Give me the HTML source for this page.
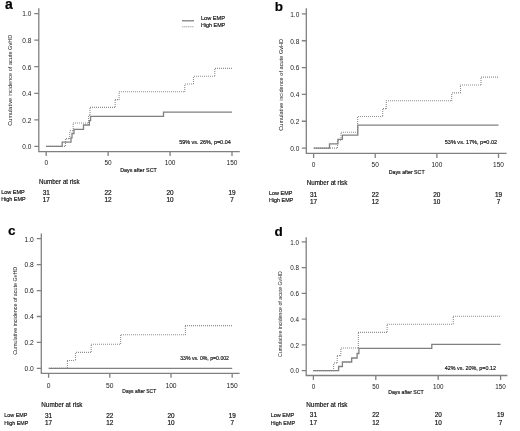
<!DOCTYPE html>
<html><head><meta charset="utf-8"><title>Cumulative incidence of acute GvHD</title>
<style>
html,body{margin:0;padding:0;background:#fff;}
body{width:520px;height:431px;overflow:hidden;}
svg{display:block;font-family:"Liberation Sans", sans-serif;filter:blur(0.5px);}
text{stroke:#111;stroke-width:0.18px;}
text.lt{stroke:none;fill:#1a1a1a;}
</style></head><body>
<svg width="520" height="431" viewBox="0 0 520 431">
<rect width="520" height="431" fill="#fff"/>
<g id="pa"><text x="5.0" y="9.2" font-size="14" font-weight="bold" fill="#000">a</text>
<path d="M38.8,8.3V151.6H239.8" fill="none" stroke="#808080" stroke-width="1.3"/>
<text class="lt" x="31.4" y="149.20" font-size="6.5" text-anchor="end">0.0</text>
<text class="lt" x="31.4" y="122.64" font-size="6.5" text-anchor="end">0.2</text>
<text class="lt" x="31.4" y="96.08" font-size="6.5" text-anchor="end">0.4</text>
<text class="lt" x="31.4" y="69.52" font-size="6.5" text-anchor="end">0.6</text>
<text class="lt" x="31.4" y="42.96" font-size="6.5" text-anchor="end">0.8</text>
<text class="lt" x="31.4" y="16.40" font-size="6.5" text-anchor="end">1.0</text>
<text class="lt" x="46.20" y="165.20" font-size="6.5" text-anchor="middle">0</text>
<text class="lt" x="108.13" y="165.20" font-size="6.5" text-anchor="middle">50</text>
<text class="lt" x="170.07" y="165.20" font-size="6.5" text-anchor="middle">100</text>
<text class="lt" x="232.00" y="165.20" font-size="6.5" text-anchor="middle">150</text>
<path d="M34.30,146.40H38.8M34.30,119.84H38.8M34.30,93.28H38.8M34.30,66.72H38.8M34.30,40.16H38.8M34.30,13.60H38.8M46.20,151.6V156.10M108.13,151.6V156.10M170.07,151.6V156.10M232.00,151.6V156.10" fill="none" stroke="#808080" stroke-width="1.3"/>
<text class="lt" transform="translate(12.30,125.7) rotate(-90)" x="0" y="0" font-size="5.5" textLength="90.90" lengthAdjust="spacingAndGlyphs">Cumulative incidence of acute GvHD</text>
<text x="120.20" y="171.90" font-size="5.8" textLength="36.60" lengthAdjust="spacingAndGlyphs" fill="#111">Days after SCT</text>
<text x="179.20" y="144.40" font-size="6.2" textLength="51.50" lengthAdjust="spacingAndGlyphs" fill="#111">59&#37; vs. 26&#37;, p=0.04</text>
<text x="39.00" y="183.50" font-size="6.6" textLength="40.50" lengthAdjust="spacingAndGlyphs" fill="#111">Number at risk</text>
<text x="1.15" y="193.90" font-size="6.2" textLength="23.65" lengthAdjust="spacingAndGlyphs" fill="#111">Low EMP</text>
<text x="1.15" y="201.20" font-size="6.2" textLength="24.45" lengthAdjust="spacingAndGlyphs" fill="#111">High EMP</text>
<text x="46.20" y="194.6" font-size="6.4" text-anchor="middle" fill="#111">31</text>
<text x="46.20" y="202.0" font-size="6.4" text-anchor="middle" fill="#111">17</text>
<text x="108.13" y="194.6" font-size="6.4" text-anchor="middle" fill="#111">22</text>
<text x="108.13" y="202.0" font-size="6.4" text-anchor="middle" fill="#111">12</text>
<text x="170.07" y="194.6" font-size="6.4" text-anchor="middle" fill="#111">20</text>
<text x="170.07" y="202.0" font-size="6.4" text-anchor="middle" fill="#111">10</text>
<text x="232.00" y="194.6" font-size="6.4" text-anchor="middle" fill="#111">19</text>
<text x="232.00" y="202.0" font-size="6.4" text-anchor="middle" fill="#111">7</text>
<g fill="none" stroke="#8e8e8e" stroke-width="1.1" stroke-dasharray="1 1"><path d="M46,146.40H65.50"/><path d="M65.50,146V138.60"/><path d="M66,138.60H69.70"/><path d="M69.70,139V130.80"/><path d="M70,130.80H73.20"/><path d="M73.20,131V123.00"/><path d="M73,123.00H88.60"/><path d="M88.60,123V115.20"/><path d="M89,115.20H90.00"/><path d="M90.00,115V107.40"/><path d="M90,107.40H115.20"/><path d="M115.20,107V99.60"/><path d="M115,99.60H119.10"/><path d="M119.10,100V91.80"/><path d="M119,91.80H184.75"/><path d="M184.75,92V84.00"/><path d="M185,84.00H193.50"/><path d="M193.50,84V76.20"/><path d="M194,76.20H214.75"/><path d="M214.75,76V68.40"/><path d="M215,68.40H232.00"/></g>
<path d="M46.20,146.40H62.20V142.10H71.00V137.80H72.00V133.50H74.00V129.30H83.50V125.00H89.40V120.70H90.60V116.40H163.50V112.10H232.00" fill="none" stroke="#808080" stroke-width="1.3"/>
<path d="M182,20.8H194" stroke="#808080" stroke-width="1.3"/>
<path d="M182,26.8H194" stroke="#aaa" stroke-width="1.1" stroke-dasharray="1.5 0.5"/>
<text x="201.00" y="19.90" font-size="5.9" textLength="24.00" lengthAdjust="spacingAndGlyphs" fill="#111">Low EMP</text>
<text x="201.00" y="26.90" font-size="5.9" textLength="24.20" lengthAdjust="spacingAndGlyphs" fill="#111">High EMP</text></g>
<g id="pb"><text x="274.8" y="10.9" font-size="13.5" font-weight="bold" fill="#000">b</text>
<path d="M306.3,8.3V153.4H506.6" fill="none" stroke="#808080" stroke-width="1.3"/>
<text class="lt" x="299.3" y="150.90" font-size="6.5" text-anchor="end">0.0</text>
<text class="lt" x="299.3" y="124.06" font-size="6.5" text-anchor="end">0.2</text>
<text class="lt" x="299.3" y="97.22" font-size="6.5" text-anchor="end">0.4</text>
<text class="lt" x="299.3" y="70.38" font-size="6.5" text-anchor="end">0.6</text>
<text class="lt" x="299.3" y="43.54" font-size="6.5" text-anchor="end">0.8</text>
<text class="lt" x="299.3" y="16.70" font-size="6.5" text-anchor="end">1.0</text>
<text class="lt" x="313.60" y="167.40" font-size="6.5" text-anchor="middle">0</text>
<text class="lt" x="375.23" y="167.40" font-size="6.5" text-anchor="middle">50</text>
<text class="lt" x="436.87" y="167.40" font-size="6.5" text-anchor="middle">100</text>
<text class="lt" x="498.50" y="167.40" font-size="6.5" text-anchor="middle">150</text>
<path d="M301.80,148.10H306.3M301.80,121.26H306.3M301.80,94.42H306.3M301.80,67.58H306.3M301.80,40.74H306.3M301.80,13.90H306.3M313.60,153.4V157.90M375.23,153.4V157.90M436.87,153.4V157.90M498.50,153.4V157.90" fill="none" stroke="#808080" stroke-width="1.3"/>
<text class="lt" transform="translate(283.40,130.7) rotate(-90)" x="0" y="0" font-size="5.6" textLength="91.90" lengthAdjust="spacingAndGlyphs">Cumulative incidence of acute GvHD</text>
<text x="388.80" y="173.70" font-size="5.8" textLength="35.80" lengthAdjust="spacingAndGlyphs" fill="#111">Days after SCT</text>
<text x="444.80" y="144.00" font-size="6.2" textLength="52.30" lengthAdjust="spacingAndGlyphs" fill="#111">53&#37; vs. 17&#37;, p=0.02</text>
<text x="306.70" y="185.40" font-size="6.6" textLength="40.60" lengthAdjust="spacingAndGlyphs" fill="#111">Number at risk</text>
<text x="269.00" y="194.80" font-size="6.2" textLength="23.30" lengthAdjust="spacingAndGlyphs" fill="#111">Low EMP</text>
<text x="269.00" y="202.10" font-size="6.2" textLength="24.20" lengthAdjust="spacingAndGlyphs" fill="#111">High EMP</text>
<text x="313.60" y="197.0" font-size="6.4" text-anchor="middle" fill="#111">31</text>
<text x="313.60" y="204.2" font-size="6.4" text-anchor="middle" fill="#111">17</text>
<text x="375.23" y="197.0" font-size="6.4" text-anchor="middle" fill="#111">22</text>
<text x="375.23" y="204.2" font-size="6.4" text-anchor="middle" fill="#111">12</text>
<text x="436.87" y="197.0" font-size="6.4" text-anchor="middle" fill="#111">20</text>
<text x="436.87" y="204.2" font-size="6.4" text-anchor="middle" fill="#111">10</text>
<text x="498.50" y="197.0" font-size="6.4" text-anchor="middle" fill="#111">19</text>
<text x="498.50" y="204.2" font-size="6.4" text-anchor="middle" fill="#111">7</text>
<g fill="none" stroke="#8e8e8e" stroke-width="1.1" stroke-dasharray="1 1"><path d="M314,148.10H337.50"/><path d="M337.50,148V140.20"/><path d="M338,140.20H341.00"/><path d="M341.00,140V132.30"/><path d="M341,132.30H357.60"/><path d="M357.60,132V116.50"/><path d="M358,116.50H382.70"/><path d="M382.70,116V108.60"/><path d="M383,108.60H386.30"/><path d="M386.30,109V100.70"/><path d="M386,100.70H451.70"/><path d="M451.70,101V92.90"/><path d="M452,92.90H460.50"/><path d="M460.50,93V85.00"/><path d="M460,85.00H481.00"/><path d="M481.00,85V77.10"/><path d="M481,77.10H498.50"/></g>
<path d="M313.60,148.10H329.50V143.80H337.90V139.40H342.40V135.10H357.80V125.20H498.50" fill="none" stroke="#808080" stroke-width="1.3"/></g>
<g id="pc"><text x="8.0" y="234.5" font-size="13.5" font-weight="bold" fill="#000">c</text>
<path d="M41.3,233.6V373.3H239.6" fill="none" stroke="#808080" stroke-width="1.3"/>
<text class="lt" x="33.8" y="371.20" font-size="6.7" text-anchor="end">0.0</text>
<text class="lt" x="33.8" y="345.26" font-size="6.7" text-anchor="end">0.2</text>
<text class="lt" x="33.8" y="319.32" font-size="6.7" text-anchor="end">0.4</text>
<text class="lt" x="33.8" y="293.38" font-size="6.7" text-anchor="end">0.6</text>
<text class="lt" x="33.8" y="267.44" font-size="6.7" text-anchor="end">0.8</text>
<text class="lt" x="33.8" y="241.50" font-size="6.7" text-anchor="end">1.0</text>
<text class="lt" x="48.60" y="387.70" font-size="6.7" text-anchor="middle">0</text>
<text class="lt" x="109.80" y="387.70" font-size="6.7" text-anchor="middle">50</text>
<text class="lt" x="171.00" y="387.70" font-size="6.7" text-anchor="middle">100</text>
<text class="lt" x="232.20" y="387.70" font-size="6.7" text-anchor="middle">150</text>
<path d="M36.80,368.40H41.3M36.80,342.46H41.3M36.80,316.52H41.3M36.80,290.58H41.3M36.80,264.64H41.3M36.80,238.70H41.3M48.60,373.3V377.80M109.80,373.3V377.80M171.00,373.3V377.80M232.20,373.3V377.80" fill="none" stroke="#808080" stroke-width="1.3"/>
<text class="lt" transform="translate(16.90,354.8) rotate(-90)" x="0" y="0" font-size="5.5" textLength="88.00" lengthAdjust="spacingAndGlyphs">Cumulative incidence of acute GvHD</text>
<text x="122.30" y="393.10" font-size="5.8" textLength="33.90" lengthAdjust="spacingAndGlyphs" fill="#111">Days after SCT</text>
<text x="180.20" y="360.10" font-size="6.2" textLength="48.80" lengthAdjust="spacingAndGlyphs" fill="#111">33&#37; vs. 0&#37;, p=0.002</text>
<text x="41.30" y="406.60" font-size="6.6" textLength="41.20" lengthAdjust="spacingAndGlyphs" fill="#111">Number at risk</text>
<text x="4.30" y="417.10" font-size="6.2" textLength="23.10" lengthAdjust="spacingAndGlyphs" fill="#111">Low EMP</text>
<text x="4.30" y="424.50" font-size="6.2" textLength="23.90" lengthAdjust="spacingAndGlyphs" fill="#111">High EMP</text>
<text x="48.60" y="417.8" font-size="6.4" text-anchor="middle" fill="#111">31</text>
<text x="48.60" y="425.3" font-size="6.4" text-anchor="middle" fill="#111">17</text>
<text x="109.80" y="417.8" font-size="6.4" text-anchor="middle" fill="#111">22</text>
<text x="109.80" y="425.3" font-size="6.4" text-anchor="middle" fill="#111">12</text>
<text x="171.00" y="417.8" font-size="6.4" text-anchor="middle" fill="#111">20</text>
<text x="171.00" y="425.3" font-size="6.4" text-anchor="middle" fill="#111">10</text>
<text x="232.20" y="417.8" font-size="6.4" text-anchor="middle" fill="#111">19</text>
<text x="232.20" y="425.3" font-size="6.4" text-anchor="middle" fill="#111">7</text>
<g fill="none" stroke="#8e8e8e" stroke-width="1.1" stroke-dasharray="1 1"><path d="M49,368.40H67.40"/><path d="M67.40,368V360.50"/><path d="M67,360.50H75.50"/><path d="M75.50,360V352.40"/><path d="M76,352.40H91.20"/><path d="M91.20,352V344.30"/><path d="M91,344.30H120.60"/><path d="M120.60,344V334.70"/><path d="M121,334.70H185.40"/><path d="M185.40,335V325.60"/><path d="M185,325.60H232.20"/></g>
<path d="M48.60,368.40H232.20" fill="none" stroke="#808080" stroke-width="1.3"/></g>
<g id="pd"><text x="274.6" y="235.5" font-size="13.5" font-weight="bold" fill="#000">d</text>
<path d="M306.2,237.3V375.5H507.4" fill="none" stroke="#808080" stroke-width="1.3"/>
<text class="lt" x="299.0" y="373.40" font-size="6.3" text-anchor="end">0.0</text>
<text class="lt" x="299.0" y="347.66" font-size="6.3" text-anchor="end">0.2</text>
<text class="lt" x="299.0" y="321.92" font-size="6.3" text-anchor="end">0.4</text>
<text class="lt" x="299.0" y="296.18" font-size="6.3" text-anchor="end">0.6</text>
<text class="lt" x="299.0" y="270.44" font-size="6.3" text-anchor="end">0.8</text>
<text class="lt" x="299.0" y="244.70" font-size="6.3" text-anchor="end">1.0</text>
<text class="lt" x="313.40" y="389.40" font-size="6.3" text-anchor="middle">0</text>
<text class="lt" x="375.80" y="389.40" font-size="6.3" text-anchor="middle">50</text>
<text class="lt" x="438.20" y="389.40" font-size="6.3" text-anchor="middle">100</text>
<text class="lt" x="500.60" y="389.40" font-size="6.3" text-anchor="middle">150</text>
<path d="M301.70,370.60H306.2M301.70,344.86H306.2M301.70,319.12H306.2M301.70,293.38H306.2M301.70,267.64H306.2M301.70,241.90H306.2M313.40,375.5V380.00M375.80,375.5V380.00M438.20,375.5V380.00M500.60,375.5V380.00" fill="none" stroke="#808080" stroke-width="1.3"/>
<text class="lt" transform="translate(282.10,356.9) rotate(-90)" x="0" y="0" font-size="5.4" textLength="85.70" lengthAdjust="spacingAndGlyphs">Cumulative incidence of acute GvHD</text>
<text x="388.20" y="393.60" font-size="5.8" textLength="35.60" lengthAdjust="spacingAndGlyphs" fill="#111">Days after SCT</text>
<text x="444.80" y="369.60" font-size="6.2" textLength="51.20" lengthAdjust="spacingAndGlyphs" fill="#111">42&#37; vs. 20&#37;, p=0.12</text>
<text x="306.30" y="406.80" font-size="6.6" textLength="41.20" lengthAdjust="spacingAndGlyphs" fill="#111">Number at risk</text>
<text x="270.70" y="416.70" font-size="6.2" textLength="23.60" lengthAdjust="spacingAndGlyphs" fill="#111">Low EMP</text>
<text x="270.70" y="424.50" font-size="6.2" textLength="24.30" lengthAdjust="spacingAndGlyphs" fill="#111">High EMP</text>
<text x="313.40" y="417.0" font-size="6.4" text-anchor="middle" fill="#111">31</text>
<text x="313.40" y="424.5" font-size="6.4" text-anchor="middle" fill="#111">17</text>
<text x="375.80" y="417.0" font-size="6.4" text-anchor="middle" fill="#111">22</text>
<text x="375.80" y="424.5" font-size="6.4" text-anchor="middle" fill="#111">12</text>
<text x="438.20" y="417.0" font-size="6.4" text-anchor="middle" fill="#111">20</text>
<text x="438.20" y="424.5" font-size="6.4" text-anchor="middle" fill="#111">10</text>
<text x="500.60" y="417.0" font-size="6.4" text-anchor="middle" fill="#111">19</text>
<text x="500.60" y="424.5" font-size="6.4" text-anchor="middle" fill="#111">7</text>
<g fill="none" stroke="#8e8e8e" stroke-width="1.1" stroke-dasharray="1 1"><path d="M313,370.60H333.60"/><path d="M333.60,371V362.90"/><path d="M334,362.90H337.20"/><path d="M337.20,363V355.60"/><path d="M337,355.60H340.80"/><path d="M340.80,356V348.00"/><path d="M341,348.00H358.40"/><path d="M358.40,348V332.40"/><path d="M358,332.40H387.10"/><path d="M387.10,332V324.20"/><path d="M387,324.20H453.30"/><path d="M453.30,324V316.20"/><path d="M453,316.20H500.60"/></g>
<path d="M313.40,370.60H338.60V366.50H342.40V362.00H351.70V358.00H357.10V353.50H358.90V348.40H431.80V344.30H500.60" fill="none" stroke="#808080" stroke-width="1.3"/></g>
</svg>
</body></html>
